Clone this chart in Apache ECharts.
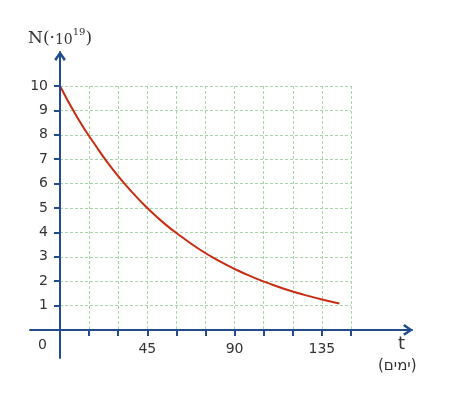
<!DOCTYPE html>
<html>
<head>
<meta charset="utf-8">
<script src="https://cdn.jsdelivr.net/npm/echarts@6/dist/echarts.min.js"></script>
<style>html,body{margin:0;padding:0;background:#fff}#c{width:450px;height:406px}</style>
</head>
<body>
<div id="c"></div>
<script>
// Data
const tDays = [0, 9, 18, 27, 36, 45, 54, 63, 72, 81, 90, 99, 108, 117, 126, 135, 144];
const nValues = [10, 8.7, 7.6, 6.6, 5.75, 5.0, 4.35, 3.8, 3.3, 2.87, 2.5, 2.18, 1.9, 1.65, 1.44, 1.25, 1.09];
const xTickLabels = [45, 90, 135];
const yTickLabels = [1, 2, 3, 4, 5, 6, 7, 8, 9, 10];

const AXIS = '#234c8f';
const GRIDC = '#a9d4a9';
const TXT = '#333333';
const CHEVRON = 'path://M5 0 L10 7.2 L8.3 8.6 L5 3.6 L1.7 8.6 L0 7.2 Z';

const chart = echarts.init(document.getElementById('c'), null, {renderer: 'canvas'});
chart.setOption({
  animation: false,
  grid: [
    {left: 30, right: 38, top: 52, bottom: 48},
    {left: 60, right: 99, top: 86, bottom: 76}
  ],
  xAxis: [
    {gridIndex: 0, type: 'value', min: -15.5, max: 181.5, z: 5,
     axisLine: {show: true, onZero: true, symbol: ['none', CHEVRON], symbolSize: [12, 10], symbolOffset: [0, -4],
       lineStyle: {color: AXIS, width: 2}},
     axisTick: {show: false}, axisLabel: {show: false}, splitLine: {show: false}},
    {gridIndex: 1, type: 'value', min: 0, max: 150, interval: 15, z: 1,
     axisLine: {show: false},
     axisTick: {show: true, inside: false, length: 6, lineStyle: {color: AXIS, width: 2}},
     axisLabel: {show: true, margin: 12, color: TXT, fontSize: 14, fontFamily: 'DejaVu Sans',
       formatter: v => xTickLabels.indexOf(v) >= 0 ? String(v) : ''},
     splitLine: {show: true, lineStyle: {color: GRIDC, type: [3, 2], width: 1}}}
  ],
  yAxis: [
    {gridIndex: 0, type: 'value', min: -1.15, max: 11.39, z: 5,
     axisLine: {show: true, onZero: true, symbol: ['none', CHEVRON], symbolSize: [12, 10], symbolOffset: [0, -4],
       lineStyle: {color: AXIS, width: 2}},
     axisTick: {show: false}, axisLabel: {show: false}, splitLine: {show: false},
     name: '{n|N(·}{m|10}{s|19}{n|)}', nameLocation: 'end', nameGap: 5,
     nameTextStyle: {rich: {
       n: {fontFamily: 'DejaVu Serif', fontSize: 17, color: TXT, lineHeight: 20, verticalAlign: 'bottom'},
       m: {fontFamily: 'DejaVu Serif', fontSize: 14, color: TXT, lineHeight: 20, verticalAlign: 'bottom'},
       s: {fontFamily: 'DejaVu Serif', fontSize: 10, color: TXT, lineHeight: 14, verticalAlign: 'top'}
     }}},
    {gridIndex: 1, type: 'value', min: 0, max: 10, interval: 1, z: 1,
     axisLine: {show: false},
     axisTick: {show: true, inside: false, length: 6, lineStyle: {color: AXIS, width: 2}},
     axisLabel: {show: true, margin: 12, color: TXT, fontSize: 14, fontFamily: 'DejaVu Sans',
       formatter: v => yTickLabels.indexOf(v) >= 0 ? String(v) : ''},
     splitLine: {show: true, lineStyle: {color: GRIDC, type: [3, 2], width: 1}}}
  ],
  graphic: [
    {type: 'text', left: 38, top: 338, style: {text: '0', fill: TXT, font: '14px DejaVu Sans'}},
    {type: 'text', left: 398, top: 335, style: {text: 't', fill: TXT, font: '18px DejaVu Sans'}},
    {type: 'text', left: 378, top: 359, style: {text: '(ימים)', fill: TXT, font: '15px DejaVu Sans'}}
  ],
  series: [{
    type: 'line', xAxisIndex: 1, yAxisIndex: 1, z: 3,
    data: tDays.map((t, i) => [t, nValues[i]]),
    smooth: true, showSymbol: false, clip: false,
    lineStyle: {color: '#c62d12', width: 2}
  }]
});
</script>
</body>
</html>
